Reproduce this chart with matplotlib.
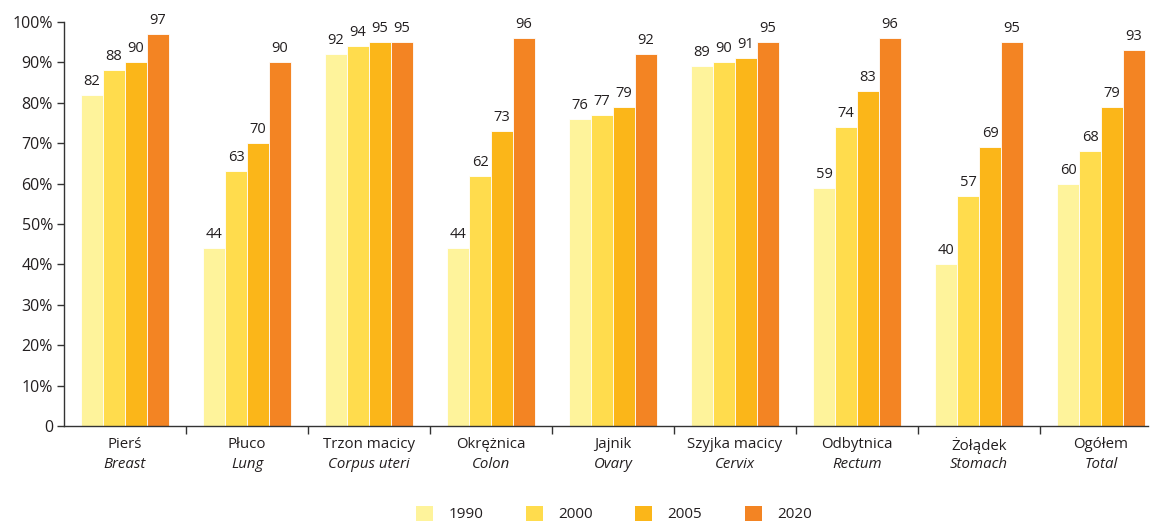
import numpy as np
import matplotlib
matplotlib.use("Agg")
import matplotlib.pyplot as plt
from matplotlib.patches import Patch

plt.rcParams['font.family'] = ['Open Sans', 'DejaVu Sans']

# categories (Polish / English)
names_pl = ['Pierś', 'Płuco', 'Trzon macicy', 'Okrężnica', 'Jajnik',
            'Szyjka macicy', 'Odbytnica', 'Żołądek', 'Ogółem']
names_en = ['Breast', 'Lung', 'Corpus uteri', 'Colon', 'Ovary',
            'Cervix', 'Rectum', 'Stomach', 'Total']

years = ['1990', '2000', '2005', '2020']
v1990 = [82, 44, 92, 44, 76, 89, 59, 40, 60]
v2000 = [88, 63, 94, 62, 77, 90, 74, 57, 68]
v2005 = [90, 70, 95, 73, 79, 91, 83, 69, 79]
v2020 = [97, 90, 95, 96, 92, 95, 96, 95, 93]
series = [v1990, v2000, v2005, v2020]
colors = ['#FEF39B', '#FFDC4D', '#FBB619', '#F38423']

yticks = [0, 10, 20, 30, 40, 50, 60, 70, 80, 90, 100]

fig = plt.figure(figsize=(11.52, 5.22), dpi=100)
ax = fig.add_axes([64 / 1152, 96 / 522, (1148 - 64) / 1152, 404 / 522])

x = np.arange(len(names_pl))
bw = 0.18
text_col = '#231F20'
for i, (vals, col) in enumerate(zip(series, colors)):
    pos = x + (i - 1.5) * bw
    ax.bar(pos, vals, width=bw, color=col, edgecolor='white', linewidth=0.6, zorder=2)
    for px, v in zip(pos, vals):
        ax.annotate(str(v), (px, v), xytext=(0, 6), textcoords='offset pixels',
                    ha='center', va='bottom', fontsize=10.5, color=text_col,
                    annotation_clip=False)

ax.set_xlim(-0.5, 8.385)
ax.set_ylim(0, 100)
ax.set_yticks(yticks)
ax.set_yticklabels(['0'] + [f'{t}%' for t in yticks[1:]], fontsize=11.5, color=text_col)
ax.set_xticks(np.arange(len(names_pl) - 1) + 0.5)
ax.set_xticklabels([])
ax.tick_params(axis='y', direction='out', length=5, width=1, color='#333333', pad=3)
ax.tick_params(axis='x', direction='out', length=6, width=1, color='#333333')

for s in ['top', 'right']:
    ax.spines[s].set_visible(False)
for s in ['left', 'bottom']:
    ax.spines[s].set_color('#333333')
    ax.spines[s].set_linewidth(1)

for xi, pl, en in zip(x, names_pl, names_en):
    ax.annotate(pl, (xi, 0), xycoords='data', xytext=(0, -19), textcoords='offset pixels',
                ha='center', va='center', fontsize=10.8, color=text_col, annotation_clip=False)
    ax.annotate(en, (xi, 0), xycoords='data', xytext=(0, -38), textcoords='offset pixels',
                ha='center', va='center', fontsize=10.8, style='italic', color=text_col,
                annotation_clip=False)

handles = [Patch(facecolor=c, edgecolor='none') for c in colors]
fig.legend(handles, years, loc='center', bbox_to_anchor=(0.533, 0.015), ncol=4,
           frameon=False, fontsize=11, handlelength=1.1, handleheight=1.1,
           handletextpad=1.0, columnspacing=2.8, labelcolor=text_col)

fig.savefig('out.png', dpi=100)
